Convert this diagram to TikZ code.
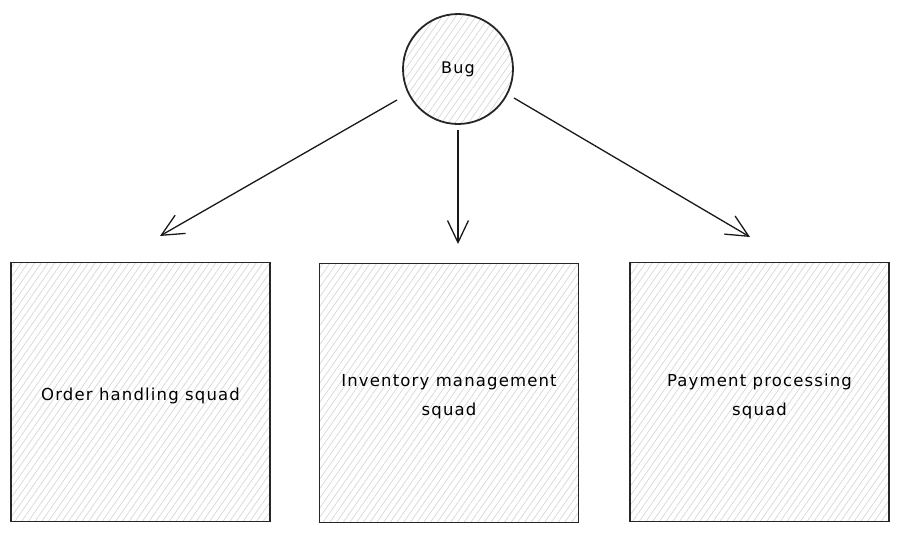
\documentclass[tikz,border=0pt]{standalone}
\usepackage{fontspec}
\setmainfont[LetterSpace=7]{DejaVu Sans}
\usetikzlibrary{arrows.meta,patterns.meta}
\tikzset{
  hatchfill/.style={pattern={Lines[angle=55,distance=5.5pt,line width=0.7pt]},pattern color=black!16},
  squadbox/.style={draw=black!85,line width=1.4pt,hatchfill,minimum width=259pt,minimum height=259pt,inner sep=0pt},
  squadtext/.style={align=center,yshift=-4pt,font=\fontsize{16.5}{29}\selectfont},
  bugnode/.style={circle,draw=black!85,line width=1.8pt,hatchfill,minimum size=110pt,inner sep=0pt,font=\fontsize{16}{19}\selectfont},
  flow/.style={draw=black!90,line width=1.3pt,-{Straight Barb[length=22pt,width=21pt,line width=1.3pt]}}
}
\begin{document}
\begin{tikzpicture}[x=1pt,y=-1pt]
\useasboundingbox (0,0) rectangle (899,533);
\node[bugnode] (bug) at (458,69) {Bug};
\node[squadbox,label={[squadtext]center:Order handling squad}] (order) at (140.5,392) {};
\node[squadbox,label={[squadtext]center:Inventory management\\squad}] (inv) at (449,393) {};
\node[squadbox,label={[squadtext]center:Payment processing\\squad}] (pay) at (759.5,392) {};
\coordinate (t1) at (160,236);
\coordinate (t2) at (458,244);
\coordinate (t3) at (750,237);
\coordinate (s1) at (397,100);
\coordinate (s2) at (458,130);
\coordinate (s3) at (514,98);
\draw[flow] (s1) -- (t1);
\draw[flow] (s2) -- (t2);
\draw[flow] (s3) -- (t3);
\end{tikzpicture}
\end{document}
